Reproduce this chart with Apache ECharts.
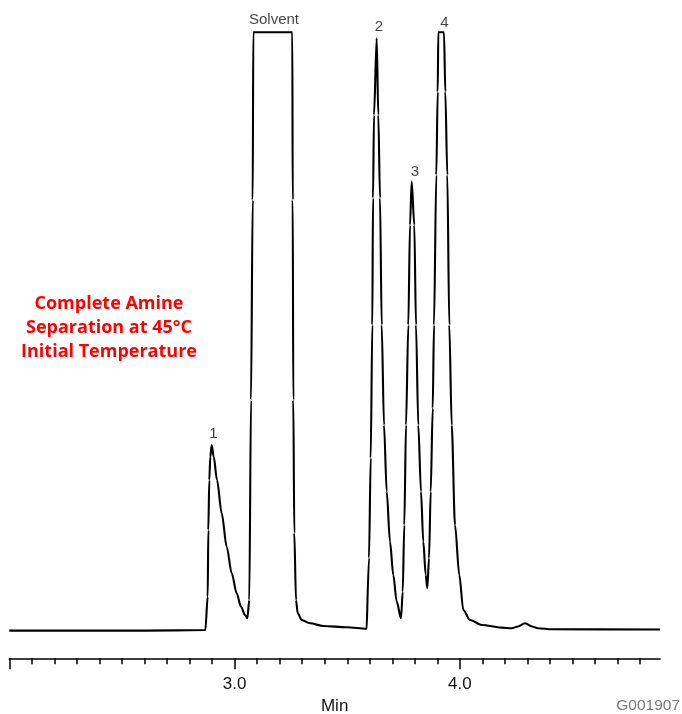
<!DOCTYPE html>
<html>
<head>
<meta charset="utf-8">
<script src="https://cdn.jsdelivr.net/npm/echarts@6/dist/echarts.min.js"></script>
<style>
html,body{margin:0;padding:0;background:#fff;}
#chart{width:682px;height:714px;}
</style>
</head>
<body>
<div id="chart"></div>
<script>
// Retention time (min) and detector signal (relative units)
const times = [
  2.000, 2.600, 2.8700, 2.8806, 2.8833, 2.8877, 2.8921, 2.8984, 2.9072, 2.9219,
  2.9427, 2.9649, 2.9871, 3.0093, 3.0284, 3.0462, 3.0564, 3.0652, 3.0728, 3.0803,
  3.0830, 3.2561, 3.2579, 3.2605, 3.2650, 3.2725, 3.2801, 3.2978, 3.3347, 3.3937,
  3.4976, 3.5863, 3.5890, 3.5965, 3.6041, 3.6112, 3.6143, 3.6187, 3.6307, 3.6378,
  3.6454, 3.6529, 3.6631, 3.6751, 3.6897, 3.7044, 3.7195, 3.7386, 3.7461, 3.7532,
  3.7608, 3.7710, 3.7785, 3.7860, 3.7976, 3.8051, 3.8153, 3.8273, 3.8375, 3.8482,
  3.8553, 3.8629, 3.8704, 3.8793, 3.8850, 3.8952, 3.9015, 3.9041, 3.9294, 3.9352,
  3.9441, 3.9529, 3.9636, 3.9782, 3.9973, 4.0151, 4.0448, 4.0967, 4.1855, 4.2299,
  4.2579, 4.2890, 4.3200, 4.3466, 4.4075, 4.8881
];
const signal = [
  0.0, 0.0, 0.10, 5.66, 16.76, 25.09, 28.97, 30.91, 28.97, 25.09,
  19.54, 13.98, 9.56, 6.23, 4.00, 2.61, 2.06, 5.11, 38.41, 71.70,
  99.62, 99.62, 71.70, 38.41, 16.26, 5.11, 2.90, 1.78, 1.23, 0.78,
  0.57, 0.33, 0.35, 12.10, 28.75, 50.89, 72.04, 85.85, 98.62, 85.85,
  72.04, 50.89, 34.24, 23.14, 14.82, 9.27, 4.83, 2.06, 6.49, 17.60,
  34.24, 50.89, 67.54, 74.75, 67.54, 50.89, 34.24, 23.14, 14.82, 9.27,
  7.06, 12.05, 23.14, 37.02, 50.89, 75.86, 89.73, 99.62, 99.62, 89.73,
  75.86, 50.89, 34.24, 17.60, 9.27, 3.45, 1.78, 0.95, 0.50, 0.40,
  0.70, 1.23, 0.70, 0.40, 0.23, 0.20
];
// Peak annotations
const peakNames = ['1', 'Solvent', '2', '3', '4'];
const peakLabelTimes = [2.9055, 3.1749, 3.6409, 3.8007, 3.9308];
const peakLabelValues = [32.70, 101.67, 100.55, 76.41, 101.12];
// Axis ticks
const majorTicks = [2.0, 3.0, 4.0];
const labeledTicks = [3.0, 4.0];
const minorTicks = [2.1, 2.2, 2.3, 2.4, 2.5, 2.6, 2.7, 2.8, 2.9,
                    3.1, 3.2, 3.3, 3.4, 3.5, 3.6, 3.7, 3.8, 3.9,
                    4.1, 4.2, 4.3, 4.4, 4.5, 4.6, 4.7, 4.8];
const xMin = 2.0, xMax = 4.8881;
const noteLines = ['Complete Amine', 'Separation at 45°C', 'Initial Temperature'];
const figureId = 'G001907';

const lineData = times.map((t, i) => [t, signal[i]]);
const labelData = peakNames.map((n, i) => ({ name: n, value: [peakLabelTimes[i], peakLabelValues[i]] }));

const chart = echarts.init(document.getElementById('chart'), null, { renderer: 'canvas' });
const font = '"Liberation Sans", Arial, Helvetica, sans-serif';
const noteGraphics = noteLines.map((line, i) => ({
  type: 'text', x: 109, y: 303.5 + i * 24, z: 10,
  style: { text: line, fill: '#ff0000', font: 'bold 18px "Open Sans", sans-serif',
           align: 'center', verticalAlign: 'middle' }
}));
chart.setOption({
  animation: false,
  backgroundColor: '#fff',
  grid: { left: 9.3, right: 22, top: 30, bottom: 55.7, outerBoundsMode: 'none', containLabel: false },
  xAxis: [
    {
      type: 'value', min: xMin, max: xMax, position: 'bottom',
      axisLine: { show: true, onZero: false, lineStyle: { color: '#000', width: 1.6 } },
      axisTick: { show: true, customValues: majorTicks, length: 11, lineStyle: { color: '#000', width: 1.5 } },
      axisLabel: { show: true, customValues: labeledTicks, margin: 18, color: '#111', fontSize: 17, fontFamily: font,
                   formatter: v => v.toFixed(1) },
      splitLine: { show: false },
      name: 'Min', nameLocation: 'middle', nameGap: 37,
      nameTextStyle: { color: '#111', fontSize: 17, fontFamily: font }
    },
    {
      type: 'value', min: xMin, max: xMax, position: 'bottom', gridIndex: 0,
      axisLine: { show: false, onZero: false },
      axisTick: { show: true, customValues: minorTicks, length: 6, lineStyle: { color: '#000', width: 1.5 } },
      axisLabel: { show: false },
      splitLine: { show: false }
    }
  ],
  yAxis: { type: 'value', min: -4.6, max: 100, show: false, splitLine: { show: false } },
  series: [
    {
      type: 'line', xAxisIndex: 0, data: lineData, showSymbol: false, symbol: 'none',
      smooth: 0.3, smoothMonotone: 'x',
      lineStyle: { color: '#000', width: 2.1 }, clip: false
    },
    {
      type: 'scatter', xAxisIndex: 0, data: labelData, symbolSize: 0, clip: false,
      label: { show: true, position: 'inside', formatter: '{b}', color: '#111', fontSize: 15, fontFamily: font }
    }
  ],
  graphic: noteGraphics.concat([
    {
      type: 'text', right: 2, top: 698,
      style: { text: figureId, fill: '#777', font: '15.5px "Liberation Sans", Arial, sans-serif' }
    }
  ])
});
</script>
</body>
</html>
